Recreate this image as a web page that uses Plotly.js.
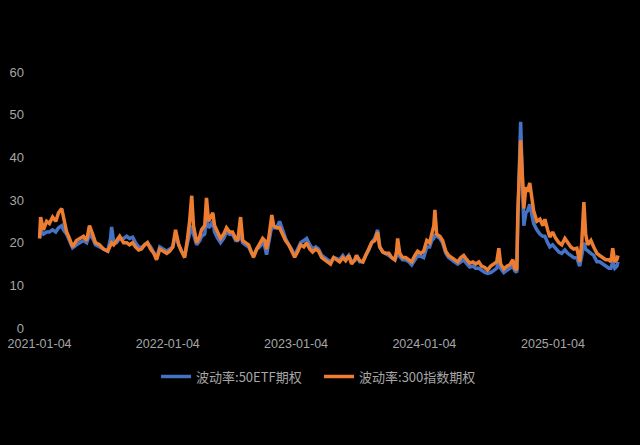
<!DOCTYPE html>
<html>
<head>
<meta charset="utf-8">
<script src="https://cdn.plot.ly/plotly-3.0.1.min.js"></script>
<style>html,body{margin:0;padding:0;background:#000;}#chart{width:640px;height:445px;}</style>
</head>
<body>
<div id="chart"></div>
<script>
const seriesNames = ["波动率:50ETF期权", "波动率:300指数期权"];
const tickDates = ["2021-01-04", "2022-01-04", "2023-01-04", "2024-01-04", "2025-01-04"];
const yTicks = [0, 10, 20, 30, 40, 50, 60];

const dates = [
"2021-01-04","2021-01-07","2021-01-15","2021-01-24","2021-02-01","2021-02-10","2021-02-19","2021-02-27","2021-03-08","2021-03-13",
"2021-03-22","2021-03-30","2021-04-08","2021-04-19","2021-04-28","2021-05-09","2021-05-18","2021-05-26","2021-06-04","2021-06-12",
"2021-06-24","2021-07-05","2021-07-17","2021-07-25","2021-07-28","2021-08-03","2021-08-11","2021-08-20","2021-08-31","2021-09-09",
"2021-09-17","2021-09-26","2021-10-04","2021-10-13","2021-10-21","2021-10-30","2021-11-07","2021-11-16","2021-11-25","2021-12-03",
"2021-12-12","2021-12-23","2022-01-01","2022-01-09","2022-01-18","2022-01-26","2022-02-04","2022-02-12","2022-02-21","2022-03-01",
"2022-03-07","2022-03-13","2022-03-18","2022-03-27","2022-04-05","2022-04-10","2022-04-19","2022-04-24","2022-04-30","2022-05-06",
"2022-05-12","2022-05-17","2022-05-26","2022-06-03","2022-06-12","2022-06-20","2022-06-29","2022-07-07","2022-07-16","2022-07-22",
"2022-07-30","2022-08-05","2022-08-13","2022-08-22","2022-08-31","2022-09-05","2022-09-14","2022-09-22","2022-10-01","2022-10-07",
"2022-10-12","2022-10-18","2022-10-24","2022-10-27","2022-11-01","2022-11-10","2022-11-18","2022-11-27","2022-12-05","2022-12-14",
"2022-12-22","2022-12-31","2023-01-09","2023-01-17","2023-01-26","2023-02-03","2023-02-12","2023-02-20","2023-03-01","2023-03-09",
"2023-03-18","2023-03-26","2023-04-04","2023-04-12","2023-04-21","2023-04-30","2023-05-08","2023-05-17","2023-05-25","2023-06-03",
"2023-06-11","2023-06-20","2023-06-25","2023-07-04","2023-07-13","2023-07-21","2023-07-30","2023-08-07","2023-08-16","2023-08-24",
"2023-08-30","2023-09-08","2023-09-16","2023-09-25","2023-10-03","2023-10-12","2023-10-17","2023-10-20","2023-10-26","2023-11-03",
"2023-11-12","2023-11-21","2023-11-29","2023-12-08","2023-12-16","2023-12-25","2024-01-02","2024-01-11","2024-01-19","2024-01-25",
"2024-01-31","2024-02-03","2024-02-08","2024-02-17","2024-02-25","2024-03-05","2024-03-13","2024-03-22","2024-03-31","2024-04-08",
"2024-04-17","2024-04-25","2024-05-04","2024-05-12","2024-05-21","2024-05-29","2024-06-07","2024-06-15","2024-06-24","2024-07-02",
"2024-07-11","2024-07-20","2024-07-28","2024-08-03","2024-08-08","2024-08-17","2024-08-26","2024-09-03","2024-09-12","2024-09-17",
"2024-09-23","2024-09-26","2024-10-02","2024-10-04","2024-10-10","2024-10-13","2024-10-19","2024-10-24","2024-10-30","2024-11-05",
"2024-11-10","2024-11-19","2024-11-28","2024-12-06","2024-12-12","2024-12-20","2024-12-26","2025-01-03","2025-01-12","2025-01-21",
"2025-01-29","2025-02-07","2025-02-15","2025-02-24","2025-03-04","2025-03-13","2025-03-21","2025-03-27","2025-04-02","2025-04-07",
"2025-04-13","2025-04-22","2025-04-30","2025-05-09","2025-05-17","2025-05-26","2025-06-03","2025-06-12","2025-06-18","2025-06-23",
"2025-06-29","2025-07-05","2025-07-08"
];

const vol300 = [
21,26,23,25,24.5,26,25,27,28,26,
22.5,21,19,20.5,21,21.5,20.5,24,22,20,
19.5,18.5,18,19.5,20,19.5,20.5,21.5,20,20,
19.5,20,19,18.3,18.5,19.5,20,18.5,17.5,16,
18.5,18,17.5,18,19,23,19.5,18,16.5,21,
25,31,24,20,21.5,23,24,30.5,25,26,
27,24,22.5,21,22,23.5,22.5,22.5,21,20.5,
26,20.5,20,19.5,17.5,16.6,18.5,19.5,21,20.5,
18.5,21,25,26.5,24,23.5,23.5,22,20.5,19.5,
18,16.6,18,19.5,19,20,18.5,17.8,18.5,18,
16.5,16,15.5,15,16.5,16,15.5,16.5,15.8,17,
15,16,17,15.8,15.5,17,18.5,20,20.5,22.5,
19,17.8,17.5,17.5,16.5,16,18,21,17.5,16.5,
16.5,16,15.5,17,18,17.5,18,20.5,20,22,
24,27.7,22,21.5,20.5,18,17,16.5,16,15.5,
16.5,17,16,15.2,15.5,15,15.5,14.5,14.2,13.6,
14.5,15,15.5,18.7,15,13.8,14.5,14.8,16,14,
13.6,27,38,44,34,28,33,32,34,31,
27.5,25,25.5,24,25.5,23,21.3,22.5,21,20,
19.5,21,20,19,18.5,18.7,15.5,20,29.5,22,
19.5,20.5,19,17.5,17,16.5,16,16,15.5,18.7,
15.5,16,17
];

const vol50 = [
21,23,22,22.5,22.5,23,22.5,23.5,24,23,
22,20.5,18.8,19.5,20,20.5,20,22,21,19.5,
19,18.5,18,21,23.7,20,20,21,21,21.5,
21,21.3,20,19,18.8,19.5,20,19,17.8,16.5,
19,18.5,18,18.5,19,22,19.5,18,17,20,
22,24,22,19.5,20.5,21.5,22,26,23.5,24,
25,22.5,21,20,21,22.5,22,22,20.5,20.5,
22,20,19.5,19,17.5,17,18.5,19,20,19,
17.2,20,23,24,23.5,23.5,25,22.5,21,19.5,
18.5,17,18.5,20,20.5,21,19.5,18.5,19,18.5,
17,16.5,16,15.5,16.5,16.2,16,17,16,17,
15.5,15.8,17,15.5,15.5,17,18.3,20,21,23,
19,17.8,17.5,17,16.5,16,17,19,16.8,16,
16,15.5,14.8,16,17,16.8,16.5,19,19,20.5,
21,22,21.5,21,20,17.5,16.5,16,15.5,15,
15.5,16,15,14.3,14.5,14,14,13.5,13,12.8,
13,13.5,14,16,14,13,13.5,14,14.5,13.5,
13,25,40,48.3,32,24,27,27.5,29,26,
24.5,23,22,21.5,21.5,20,19,19.5,18.5,17.8,
17.5,18.3,17.5,17,16.5,16.4,14.5,17,20,18.5,
18,17.5,17,15.5,15.5,15,14.5,14,14,15.5,
14,14.5,15.5
];

const gray = "#a6a6a6";
const traces = [
  {x: dates, y: vol50, name: seriesNames[0], type: "scatter", mode: "lines",
   line: {color: "#4472C4", width: 3.5}},
  {x: dates, y: vol300, name: seriesNames[1], type: "scatter", mode: "lines",
   line: {color: "#ED7D31", width: 3.5}}
];

const layout = {
  width: 640, height: 445,
  paper_bgcolor: "#000", plot_bgcolor: "#000",
  margin: {l: 35, r: 15, t: 72, b: 117},
  font: {family: "Liberation Sans, Noto Sans CJK SC, sans-serif", color: gray, size: 13},
  showlegend: true,
  legend: {orientation: "h", x: 0.4814, xanchor: "center", y: -0.19, yanchor: "middle",
           entrywidth: 118, entrywidthmode: "pixels",
           font: {family: "Noto Sans CJK SC, sans-serif", size: 13, color: gray},
           bgcolor: "rgba(0,0,0,0)", traceorder: "normal"},
  xaxis: {type: "date", range: ["2020-12-22", "2025-07-28"],
          tickmode: "array", tickvals: tickDates, ticktext: tickDates,
          showgrid: false, zeroline: false, showline: false, ticks: "",
          tickfont: {size: 12.5, color: gray}, ticklabelstandoff: 6},
  yaxis: {range: [0, 60], tickmode: "array", tickvals: yTicks,
          showgrid: false, zeroline: false, showline: false, ticks: "",
          tickfont: {size: 13, color: gray}, ticklabelstandoff: 10}
};

Plotly.newPlot("chart", traces, layout, {displayModeBar: false, staticPlot: true});
</script>
</body>
</html>
